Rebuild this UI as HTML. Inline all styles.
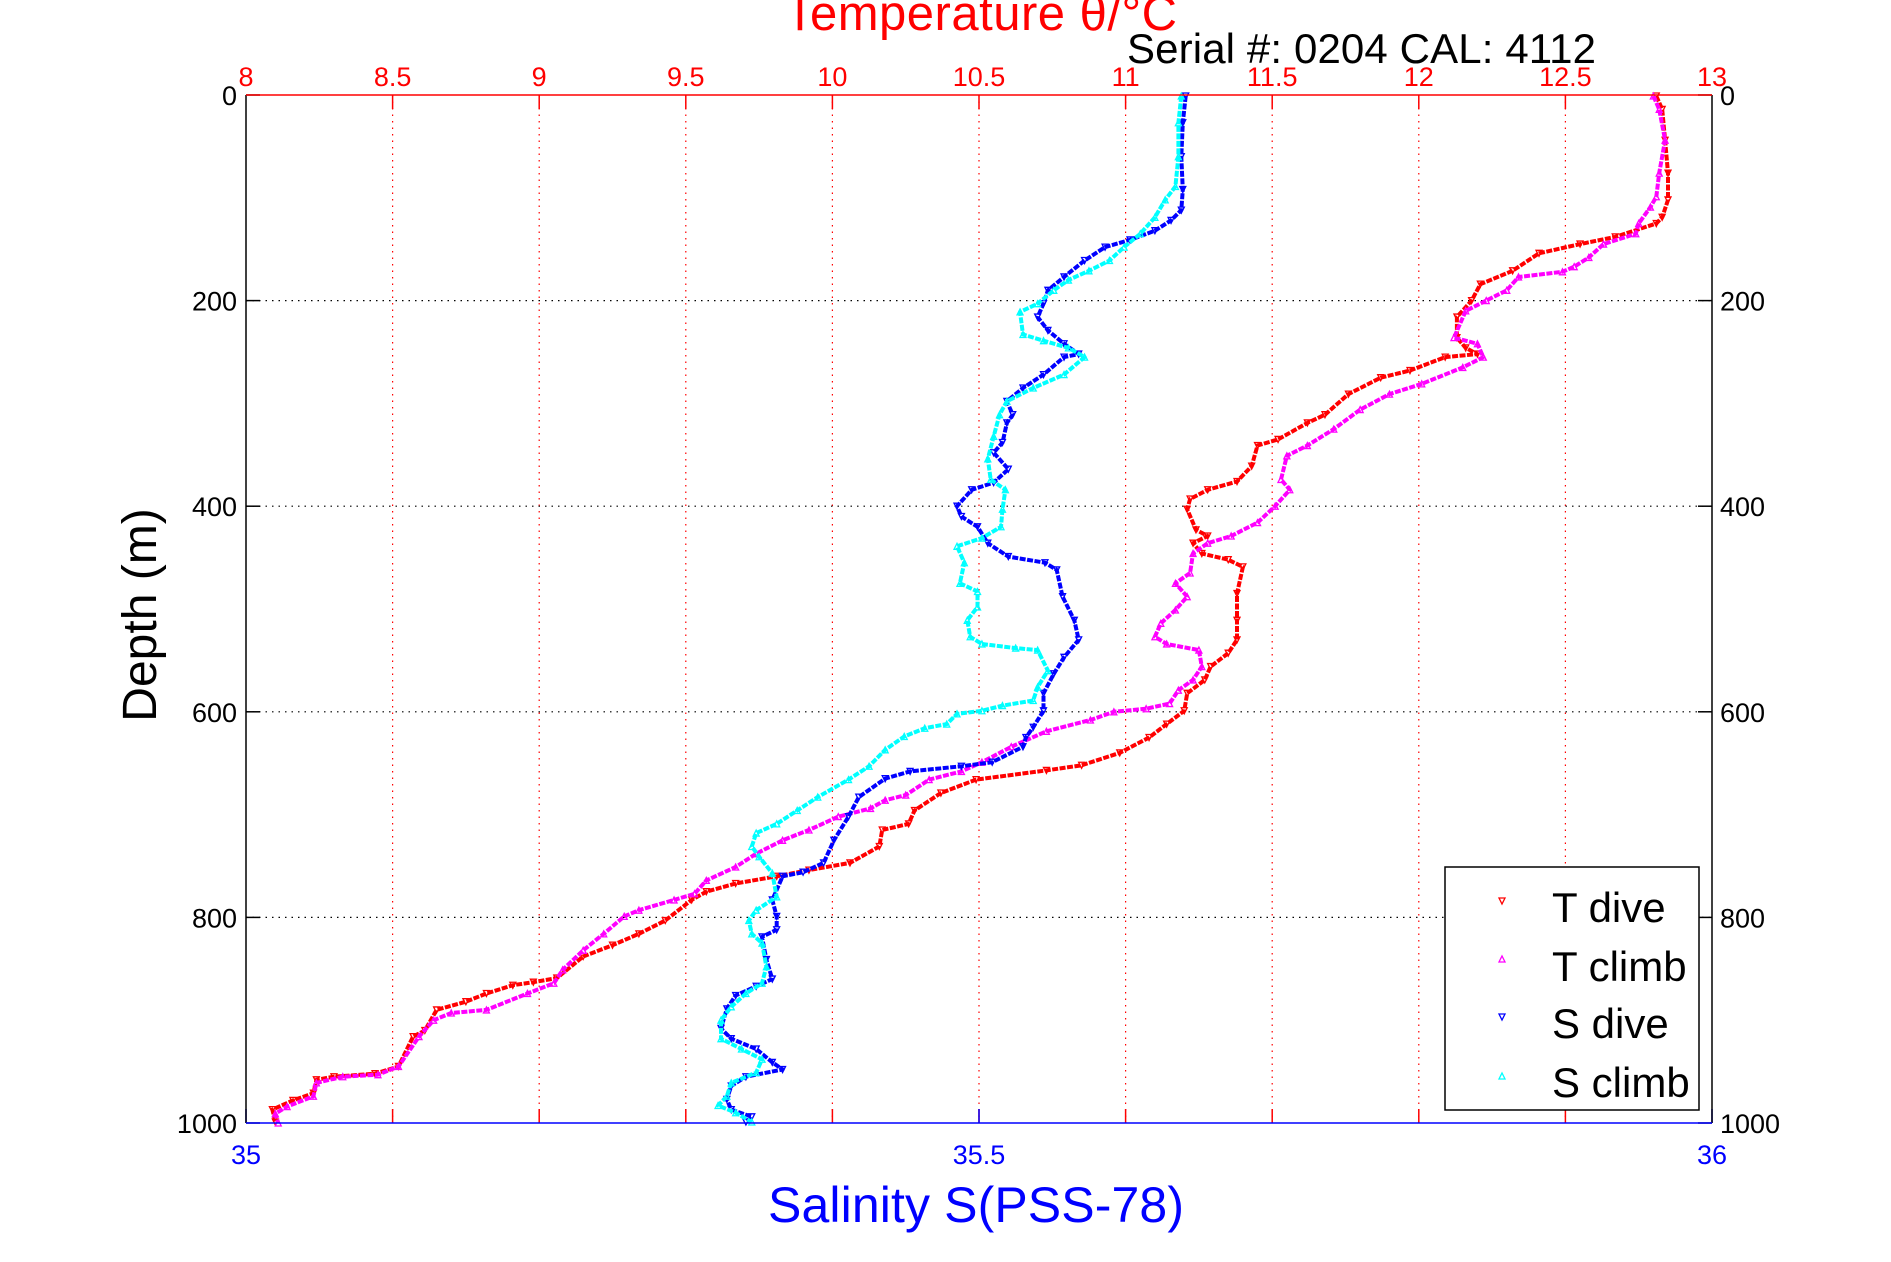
<!DOCTYPE html>
<html><head><meta charset="utf-8"><style>
html,body{margin:0;padding:0;background:#fff;}
svg{display:block;font-family:"Liberation Sans",Arial,sans-serif;}
</style></head><body>
<svg id="chart" width="1891" height="1262" viewBox="0 0 1891 1262" xmlns="http://www.w3.org/2000/svg">
<rect x="0" y="0" width="1891" height="1262" fill="#fff"/>
<g id="grid"></g>
<g id="series"></g>
<g id="axes"></g>
<text x="1177" y="30" text-anchor="end" font-size="49" fill="#f00" textLength="392">Temperature θ/°C</text>
<text x="1127" y="63" font-size="42" fill="#000" textLength="469">Serial #: 0204  CAL: 4112</text>
<text transform="translate(156,615) rotate(-90)" text-anchor="middle" font-size="48" fill="#000">Depth (m)</text>
<text x="976" y="1222" text-anchor="middle" font-size="50" fill="#00f" textLength="416">Salinity S(PSS-78)</text>
<g>
<rect x="1445" y="867" width="254" height="243" fill="#fff" stroke="#000" stroke-width="1.5"/>
<g id="legend-markers"></g>
<text x="1552" y="922" font-size="42">T dive</text>
<text x="1552" y="981" font-size="42">T climb</text>
<text x="1552" y="1038" font-size="42">S dive</text>
<text x="1552" y="1097" font-size="42">S climb</text>
</g>
</svg>
<script>
// ---- data ----
const tempTicks = [8, 8.5, 9, 9.5, 10, 10.5, 11, 11.5, 12, 12.5, 13];
const salTicks = [35, 35.5, 36];
const depthTicks = [0, 200, 400, 600, 800, 1000];

const tDiveDepth = [1,14,44,76,102,119,125,138,145,154,171,184,200,216,236,246,252,255,268,275,291,311,319,335,341,361,376,384,393,403,423,429,436,446,452,459,485,511,530,543,556,569,582,599,612,625,640,652,657,666,679,696,709,715,731,747,754,760,767,775,783,803,816,827,838,859,863,866,874,882,890,910,916,945,952,955,958,971,978,987,999];
const tDiveTemp = [12.81,12.83,12.84,12.85,12.85,12.83,12.81,12.67,12.55,12.41,12.32,12.21,12.18,12.13,12.13,12.16,12.20,12.09,11.97,11.87,11.76,11.68,11.62,11.52,11.45,11.43,11.38,11.28,11.22,11.21,11.24,11.28,11.23,11.26,11.35,11.40,11.38,11.38,11.38,11.35,11.29,11.27,11.21,11.20,11.14,11.08,10.98,10.85,10.73,10.49,10.37,10.28,10.26,10.17,10.16,10.06,9.92,9.81,9.67,9.57,9.52,9.43,9.34,9.25,9.15,9.06,8.98,8.91,8.82,8.75,8.65,8.61,8.57,8.52,8.44,8.30,8.24,8.23,8.16,8.09,8.10];

const tClimbDepth = [1,14,44,76,99,109,125,135,145,158,167,172,177,190,200,210,236,242,255,265,281,291,306,325,341,351,374,384,400,416,429,436,446,465,475,488,501,514,527,534,540,556,569,579,592,597,600,608,619,634,649,658,666,681,686,694,702,715,725,738,751,764,777,783,793,799,816,832,851,864,874,890,893,900,916,945,953,955,961,974,984,991,1000];
const tClimbTemp = [12.80,12.82,12.84,12.82,12.81,12.79,12.75,12.74,12.63,12.58,12.53,12.49,12.34,12.30,12.23,12.16,12.12,12.20,12.22,12.15,12.01,11.90,11.80,11.71,11.62,11.55,11.53,11.56,11.51,11.45,11.36,11.28,11.23,11.22,11.17,11.21,11.17,11.12,11.10,11.14,11.25,11.26,11.23,11.18,11.15,11.07,10.96,10.88,10.73,10.61,10.51,10.44,10.33,10.25,10.18,10.13,10.02,9.92,9.83,9.74,9.67,9.57,9.53,9.46,9.34,9.29,9.22,9.15,9.08,9.05,8.96,8.82,8.70,8.64,8.59,8.52,8.45,8.33,8.24,8.23,8.14,8.10,8.11];

const sDiveDepth = [1,27,60,92,112,122,132,141,148,161,177,190,203,216,229,242,252,255,272,285,298,311,319,338,348,364,377,384,400,410,420,436,449,455,462,488,511,530,547,563,582,599,615,625,634,649,653,658,665,683,702,725,747,756,760,783,799,812,819,841,860,867,876,889,908,918,928,941,948,955,964,977,987,994,999];
const sDiveSal = [35.641,35.639,35.638,35.639,35.638,35.631,35.620,35.603,35.586,35.572,35.558,35.547,35.544,35.540,35.547,35.558,35.568,35.558,35.544,35.530,35.519,35.523,35.519,35.516,35.510,35.520,35.510,35.495,35.485,35.488,35.499,35.506,35.520,35.545,35.553,35.557,35.565,35.568,35.558,35.551,35.544,35.544,35.537,35.532,35.530,35.509,35.488,35.453,35.436,35.418,35.411,35.401,35.394,35.380,35.366,35.359,35.362,35.362,35.352,35.355,35.359,35.348,35.334,35.328,35.324,35.331,35.348,35.359,35.366,35.341,35.331,35.328,35.331,35.345,35.341];

const sClimbDepth = [1,27,60,89,102,119,135,148,161,171,180,190,203,211,233,239,246,255,272,285,298,311,332,354,374,384,403,420,431,439,455,475,483,498,511,527,534,538,540,560,576,589,594,599,602,612,616,624,637,653,666,683,696,709,718,731,741,757,780,793,803,816,825,848,864,874,887,900,918,928,938,951,961,974,983,990,999];
const sClimbSal = [35.638,35.636,35.636,35.634,35.627,35.620,35.610,35.599,35.589,35.575,35.561,35.551,35.540,35.528,35.530,35.544,35.561,35.572,35.558,35.537,35.519,35.514,35.510,35.506,35.508,35.518,35.516,35.515,35.502,35.485,35.490,35.487,35.499,35.499,35.492,35.494,35.502,35.525,35.540,35.547,35.540,35.537,35.516,35.502,35.485,35.478,35.463,35.449,35.436,35.425,35.411,35.390,35.376,35.362,35.348,35.345,35.350,35.359,35.362,35.348,35.343,35.345,35.352,35.355,35.352,35.341,35.331,35.324,35.324,35.338,35.352,35.348,35.331,35.328,35.322,35.334,35.345];

// ---- axes ----
const L = 246, R = 1712, T = 95, B = 1123;
const NS = 'http://www.w3.org/2000/svg';
function xT(v){ return L + (v - 8) / 5 * (R - L); }
function xS(v){ return L + (v - 35) / 1 * (R - L); }
function yD(d){ return T + d / 1000 * (B - T); }
function mk(tag, attrs, parent){
  const e = document.createElementNS(NS, tag);
  for (const k in attrs) e.setAttribute(k, attrs[k]);
  parent.appendChild(e);
  return e;
}
const grid = document.getElementById('grid');
const axes = document.getElementById('axes');
const series = document.getElementById('series');

tempTicks.forEach(v => {
  const x = xT(v);
  if (v > 8 && v < 13) {
    const g = mk('line', {x1:x, y1:T, x2:x, y2:B, stroke:'#f00', 'stroke-width':1.2, 'stroke-dasharray':'1.5 5'}, grid);
    
    
    const t1 = mk('line', {x1:x, y1:T, x2:x, y2:T+14, stroke:'#f00', 'stroke-width':1.5}, axes);
    
    
    const t2 = mk('line', {x1:x, y1:B, x2:x, y2:B-14, stroke:'#f00', 'stroke-width':1.5}, axes);
    
    
  }
  const lb = mk('text', {x:x, y:86, 'text-anchor':'middle', 'font-size':27, fill:'#f00'}, axes);
  lb.textContent = String(v);
  
  
});
depthTicks.forEach(d => {
  const y = yD(d);
  if (d > 0 && d < 1000) {
    const g = mk('line', {x1:L, y1:y, x2:R, y2:y, stroke:'#000', 'stroke-width':1.2, 'stroke-dasharray':'1.5 5'}, grid);
    
    
  }
  const t1 = mk('line', {x1:L, y1:y, x2:L+14, y2:y, stroke:'#000', 'stroke-width':1.5}, axes);
  
  
  const t2 = mk('line', {x1:R, y1:y, x2:R-14, y2:y, stroke:'#000', 'stroke-width':1.5}, axes);
  
  
  const a = mk('text', {x:237, y:y+10, 'text-anchor':'end', 'font-size':27, fill:'#000'}, axes);
  a.textContent = String(d);
  
  
  const b = mk('text', {x:1720, y:y+10, 'text-anchor':'start', 'font-size':27, fill:'#000'}, axes);
  b.textContent = String(d);
  
  
});
salTicks.forEach(v => {
  const x = xS(v);
  const t = mk('line', {x1:x, y1:B, x2:x, y2:B-14, stroke:'#00f', 'stroke-width':1.5}, axes);
  
  
  const lb = mk('text', {x:x, y:1164, 'text-anchor':'middle', 'font-size':27, fill:'#00f'}, axes);
  lb.textContent = String(v);
  
  
});
const bl = mk('line', {x1:L, y1:T, x2:L, y2:B, stroke:'#000', 'stroke-width':1.5}, axes);


const br = mk('line', {x1:R, y1:T, x2:R, y2:B, stroke:'#000', 'stroke-width':1.5}, axes);


const bt = mk('line', {x1:L, y1:T, x2:R, y2:T, stroke:'#f00', 'stroke-width':1.5}, axes);


const bb = mk('line', {x1:L, y1:B, x2:R, y2:B, stroke:'#00f', 'stroke-width':1.5}, axes);



function tri(x, y, down){
  return down ? `M${x-3},${y-3}L${x+3},${y-3}L${x},${y+3}Z` : `M${x-3},${y+3}L${x+3},${y+3}L${x},${y-3}Z`;
}
function drawSeries(depths, vals, xf, color, down, name){
  const g = mk('g', {}, series);
  
  
  const pts = depths.map((d, i) => xf(vals[i]).toFixed(1) + ',' + yD(d).toFixed(1)).join(' ');
  const pl = mk('polyline', {points:pts, fill:'none', stroke:color, 'stroke-width':4, 'stroke-dasharray':'6 1.5', 'stroke-linejoin':'round'}, g);
  
  
  let dstr = '';
  depths.forEach((d, i) => { dstr += tri(xf(vals[i]), yD(d), down); });
  const mp = mk('path', {d:dstr, fill:'none', stroke:color, 'stroke-width':1.3}, g);
  
  
}
drawSeries(tDiveDepth, tDiveTemp, xT, '#f00', true, 't-dive-series');
drawSeries(tClimbDepth, tClimbTemp, xT, '#f0f', false, 't-climb-series');
drawSeries(sDiveDepth, sDiveSal, xS, '#00f', true, 's-dive-series');
drawSeries(sClimbDepth, sClimbSal, xS, '#0ff', false, 's-climb-series');

const lm = document.getElementById('legend-markers');
[['#f00', true, 901], ['#f0f', false, 959], ['#00f', true, 1017], ['#0ff', false, 1076]].forEach(m => {
  const p = mk('path', {d:tri(1502, m[2], m[1]), fill:'none', stroke:m[0], 'stroke-width':1.3}, lm);
  
  
});
</script>
</body></html>
